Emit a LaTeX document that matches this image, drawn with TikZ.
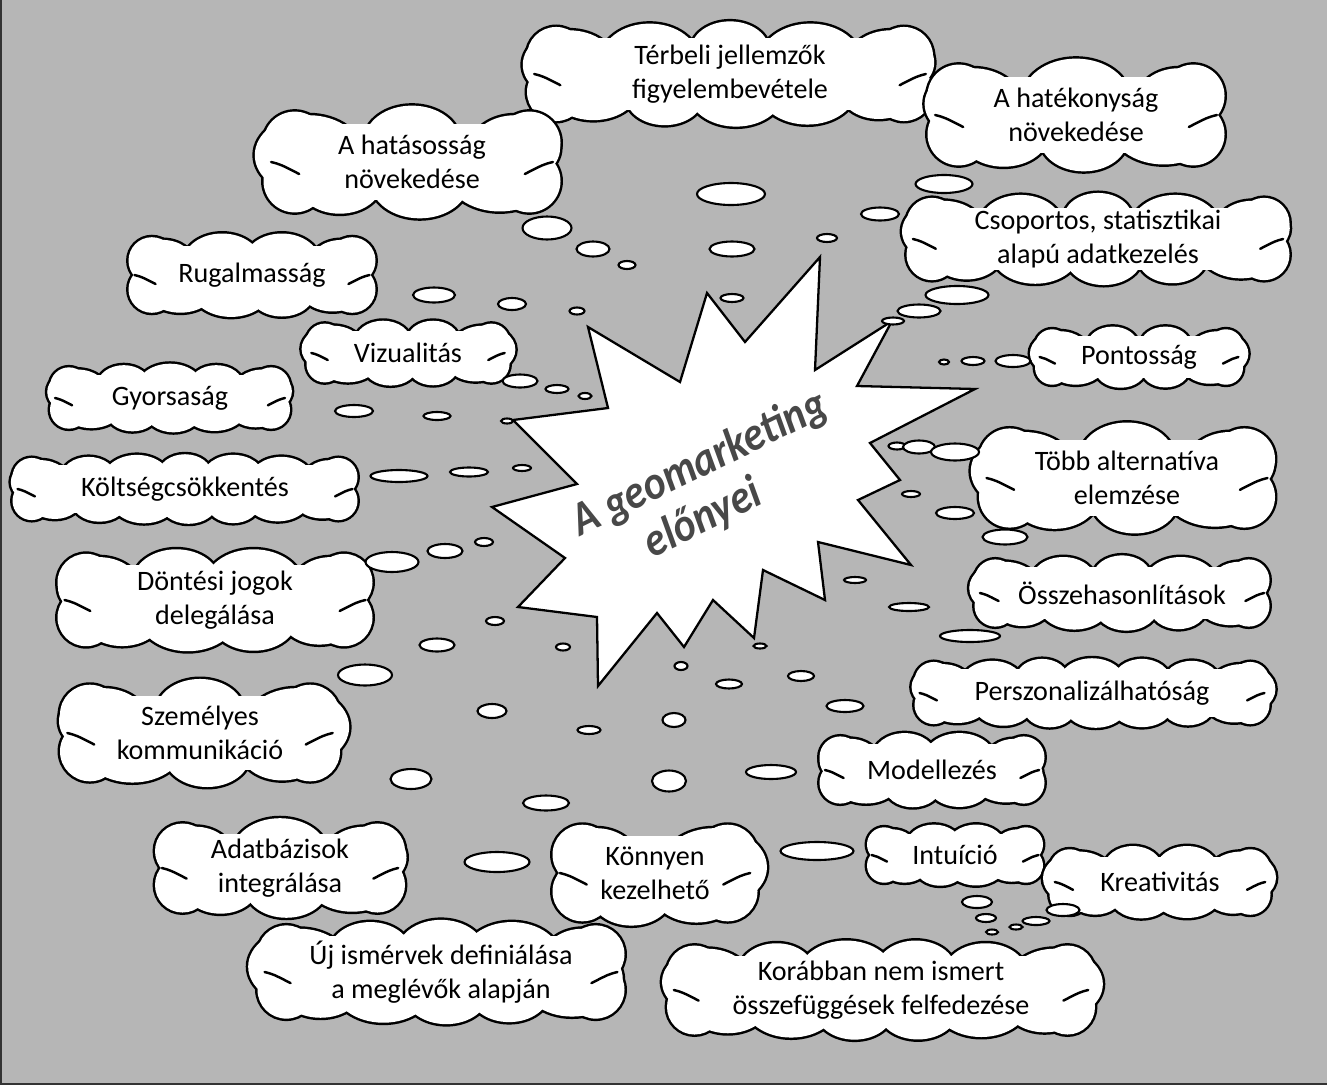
\documentclass[tikz,border=0pt]{standalone}
\usepackage{fontspec}
\setmainfont{Carlito}
\usetikzlibrary{calc}
\definecolor{bg}{RGB}{182,182,182}
\definecolor{titlegray}{RGB}{72,72,72}
% puffs of one cloud, drawn with the options given
\newcommand{\cloudpuffs}[1]{%
  \path[#1] (\cXl,\cCy-\cDd) circle [radius=\cRa*0.02cm]
            (\cXl,\cCy+\cDd) circle [radius=\cRa*0.02cm]
            (\cXr,\cCy-\cDd) circle [radius=\cRa*0.02cm]
            (\cXr,\cCy+\cDd) circle [radius=\cRa*0.02cm];
  \foreach \i in {0,...,\cKm}{%
    \pgfmathsetmacro{\cPx}{\cLx+\i*\cSs}
    \pgfmathsetmacro{\cPr}{\cRt*(1+0.14*sin(\i*137+\cCx))}
    \pgfmathsetmacro{\cPo}{0.08*\cH*((\cPx-\cCx)/\cHw)^2}
    \pgfmathsetmacro{\cQx}{\cLb+\i*\cSb}
    \pgfmathsetmacro{\cQr}{\cRt*(1+0.14*cos(\i*111+\cCy))}
    \pgfmathsetmacro{\cQo}{0.08*\cH*((\cQx-\cCx)/\cHw)^2}
    \path[#1] (\cPx,\cCy-\cCb+\cPr+0.03*\cH+\cPo) ellipse [x radius=1.35*\cPr*0.02cm, y radius=\cPr*0.02cm]
              (\cQx,\cCy+\cCb-\cQr-0.03*\cH-\cQo) ellipse [x radius=1.35*\cQr*0.02cm, y radius=\cQr*0.02cm];
  }%
}
% \mycloud{name}{cx}{cy}{w}{h}{text}
\newcommand{\mycloud}[6]{%
  \pgfmathsetmacro{\cCx}{#2}
  \pgfmathsetmacro{\cCy}{#3}
  \pgfmathsetmacro{\cH}{#5}
  \pgfmathsetmacro{\cCa}{#4/2}
  \pgfmathsetmacro{\cCb}{#5/2}
  \pgfmathsetmacro{\cRa}{0.26*#5}
  \pgfmathsetmacro{\cDd}{0.16*#5}
  \pgfmathsetmacro{\cRt}{0.3*#5}
  \pgfmathsetmacro{\cXl}{#2-\cCa+\cRa}
  \pgfmathsetmacro{\cXr}{#2+\cCa-\cRa}
  \pgfmathsetmacro{\cLx}{#2-\cCa+1.45*\cRa}
  \pgfmathsetmacro{\cRx}{#2+\cCa-1.45*\cRa}
  \pgfmathsetmacro{\cHw}{(\cRx-\cLx)/2}
  \pgfmathtruncatemacro{\cK}{max(2,round((\cRx-\cLx)/(1.75*1.35*\cRt))+1)}
  \pgfmathtruncatemacro{\cKm}{\cK-1}
  \pgfmathsetmacro{\cSs}{(\cRx-\cLx)/\cKm}
  \pgfmathsetmacro{\cLb}{\cLx+0.3*\cSs}
  \pgfmathsetmacro{\cSb}{(\cRx-0.15*\cSs-\cLb)/\cKm}
  \pgfmathsetmacro{\cCusp}{sqrt(\cRa*\cRa-\cDd*\cDd)}
  \cloudpuffs{draw=black, line width=2.8pt}
  \cloudpuffs{fill=white}
  \fill[white] (\cXl,\cCy-\cCb+0.5*\cRt+0.03*\cH) rectangle (\cXr,\cCy+\cCb-0.5*\cRt-0.03*\cH);
  \draw[curl] (\cXl-\cCusp+1,\cCy) .. controls +(0.3*\cRa,0.02*#5) .. ++(0.9*\cRa,0.1*#5);
  \draw[curl] (\cXr+\cCusp-1,\cCy) .. controls +(-0.3*\cRa,0.02*#5) .. ++(-0.9*\cRa,0.1*#5);
  \node[cloudtext] (#1) at (#2,#3) {#6};
}
\begin{document}
\begin{tikzpicture}[x=0.02cm,y=-0.02cm,
  cloudtext/.style={align=center, inner sep=0pt, font=\fontsize{16}{19.5}\selectfont},
  bub/.style={draw=black, line width=1.2pt, fill=white},
  curl/.style={line width=1.4pt, line cap=round},
  burst/.style={draw=black, line width=1.3pt, fill=white, line join=miter},
  titlefont/.style={font=\fontsize{27}{29}\selectfont\bfseries\itshape, text=titlegray, inner sep=0pt, align=center}]
% background
\fill[bg] (0,0) rectangle (1327,1085);
\useasboundingbox (0,0) rectangle (1327,1085);
\draw[line width=1.6pt, black!80] (1,0) -- (1,1084) -- (1327,1084);

% starburst
\draw[burst] (588,327) -- (680,382) -- (707,293) -- (745,342) -- (820,257) -- (815,370)
  -- (892,321) -- (857,386) -- (975,389) -- (870,443) -- (900,480) -- (858,500)
  -- (911,565) -- (818,542) -- (825,600) -- (763,570) -- (754,638) -- (713,600)
  -- (684,647) -- (657,613) -- (598,686) -- (597,617) -- (518,607) -- (565,558)
  -- (492,507) -- (577,484) -- (513,420) -- (608,408) -- cycle;
\node[titlefont, rotate=26] (title) at (711,487)
  {\scalebox{0.88}[1]{A geomarketing}\\\scalebox{0.88}[1]{előnyei}\hspace*{24pt}};

% clouds
\foreach \n/\x/\y/\w/\h/\txt in {
 c1/730/74/406/112/{Térbeli jellemzők\\figyelembevétele},
 c2/1076/115/297/120/{A hatékonyság\\növekedése},
 c3/412/162/297/120/{A hatásosság\\növekedése},
 c4/1098/239/383/98/{Csoportos, statisztikai\\alapú adatkezelés},
 c5/252/275/247/90/{Rugalmasság},
 c6/408/353/203/70/{Vizualitás},
 c7/1139/357/208/66/{Pontosság},
 c8/170/398/240/73/{Gyorsaság},
 c9/1127/478/296/118/{Több alternatíva\\elemzése},
 c10/185/489/345/74/{Költségcsökkentés},
 c11/215/600/315/110/{Döntési jogok\\delegálása},
 c12/1122/593/295/80/{Összehasonlítások},
 c13/1092/693/355/74/{Perszonalizálhatóság},
 c14/200/733/280/115/{Személyes\\kommunikáció},
 c15/932/770/225/80/{Modellezés},
 c16/280/868/250/106/{Adatbázisok\\integrálása},
 c17/655/873/205/115/{Könnyen\\kezelhető},
 c18/955/855/176/66/{Intuíció},
 c19/1160/882/221/78/{Kreativitás},
 c20/441/972/367/111/{Új ismérvek definiálása\\a meglévők alapján},
 c21/881/990/428/106/{Korábban nem ismert\\összefüggések felfedezése}}
{
  \mycloud{\n}{\x}{\y}{\w}{\h}{\txt}
}

% thought bubbles
\foreach \x/\y/\w/\h in {
 731/194/68/22, 547/228/49/23, 593/249/33/15, 627/265/17/8, 732/249/45/15,
 827/238/20/8, 880/214/38/13, 944/184/57/18, 434/295/42/15, 512/304/28/12,
 577/311/15/7, 732/298/23/8, 957/295/63/18, 919/311/43/13, 893/321/22/7,
 944/362/10/5, 973/361/23/8, 1013/361/35/12,
 520/381/35/13, 557/389/23/8, 585/396/13/6, 354/411/38/12, 437/416/27/8, 507/421/12/5,
 399/476/57/12, 469/472/38/9, 522/468/18/6, 392/562/53/20, 445/551/35/14,
 484/542/18/8, 495/621/18/8, 437/645/35/13, 563/647/14/7, 365/675/54/21,
 492/711/29/14, 589/730/23/8, 411/779/41/20, 546/803/46/15,
 681/666/13/8, 760/646/13/5, 729/684/26/9, 801/676/26/10, 674/720/23/14,
 845/706/37/12, 669/781/34/21, 771/772/50/14, 497/862/65/20, 817/851/73/18,
 977/902/30/12, 986/918/20/8, 992/932/12/5, 1016/927/13/5, 1036/921/27/8, 1063/910/33/12,
 897/446/17/7, 919/447/32/13, 955/452/48/17, 911/494/18/6, 955/513/38/12,
 1005/537/45/15, 855/580/22/6, 909/607/40/8, 970/636/60/12}
  \draw[bub] (\x,\y) ellipse [x radius={\w*0.01cm}, y radius={\h*0.01cm}];
\end{tikzpicture}
\end{document}
